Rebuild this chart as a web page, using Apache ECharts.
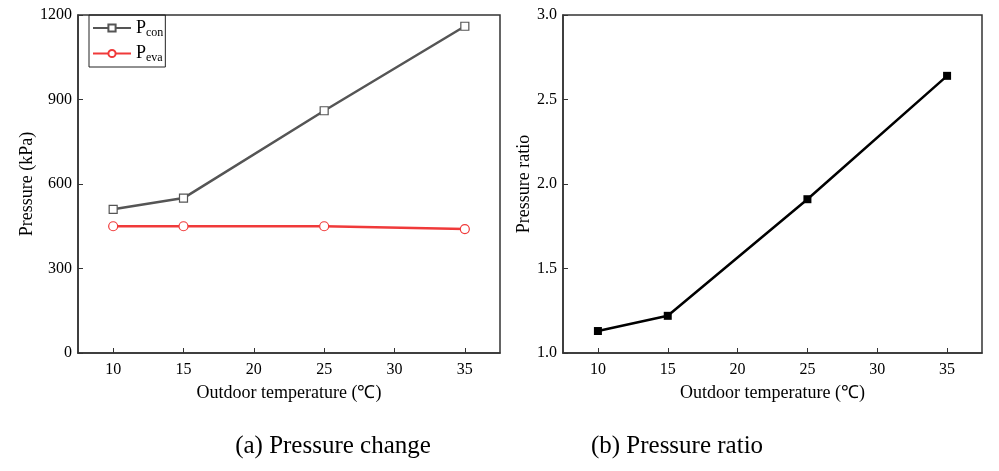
<!DOCTYPE html>
<html><head><meta charset="utf-8">
<script src="https://cdn.jsdelivr.net/npm/echarts@6/dist/echarts.min.js"></script>
<style>html,body{margin:0;padding:0;background:#fff}#c{width:999px;height:471px}</style>
</head><body><div id="c"></div>
<script>
const temps = [10, 15, 25, 35];
const pCon = [510, 550, 860, 1160];
const pEva = [450, 450, 450, 440];
const ratio = [1.13, 1.22, 1.91, 2.64];
const xTicks = [10, 15, 20, 25, 30, 35];
const yTicksLeft = [0, 300, 600, 900, 1200];
const yTicksRight = [1.0, 1.5, 2.0, 2.5, 3.0];

const F = '"Liberation Serif", "Times New Roman", serif';
const AX = '#333';
const chart = echarts.init(document.getElementById('c'));

function xAxis(gi) {
  return {
    gridIndex: gi, type: 'value', min: 7.5, max: 37.5,
    name: 'Outdoor temperature (℃)', nameLocation: 'middle', nameGap: 31,
    nameTextStyle: { fontFamily: F, fontSize: 18, color: '#000' },
    axisLine: { lineStyle: { color: AX, width: 1.5 } },
    axisTick: { inside: true, length: 5, customValues: xTicks, lineStyle: { color: AX } },
    axisLabel: { customValues: xTicks, fontFamily: F, fontSize: 16, color: '#000', margin: 9 },
    splitLine: { show: false }
  };
}
function yAxis(gi, min, max, interval, name, gap, fmt) {
  return {
    gridIndex: gi, type: 'value', min: min, max: max, interval: interval,
    name: name, nameLocation: 'middle', nameGap: gap,
    nameTextStyle: { fontFamily: F, fontSize: 18, color: '#000' },
    axisLine: { show: true, lineStyle: { color: AX, width: 1.5 } },
    axisTick: { show: true, inside: true, length: 5, lineStyle: { color: AX } },
    axisLabel: { fontFamily: F, fontSize: 16, color: '#000', margin: 6, formatter: fmt },
    splitLine: { show: false }
  };
}

const legendRich = {
  p: { fontFamily: F, fontSize: 18, color: '#000' },
  s: { fontFamily: F, fontSize: 12, color: '#000', verticalAlign: 'bottom', padding: [9, 0, 0, 0] }
};

chart.setOption({
  animation: false,
  backgroundColor: '#fff',
  grid: [
    { left: 78, right: 499, top: 15, bottom: 118, show: true, borderColor: AX, borderWidth: 1.5 },
    { left: 563, right: 17, top: 15, bottom: 118, show: true, borderColor: AX, borderWidth: 1.5 }
  ],
  title: [
    { text: '(a) Pressure change', left: 328, top: 429, textAlign: 'center',
      textStyle: { fontFamily: F, fontSize: 25, fontWeight: 'normal', color: '#000' } },
    { text: '(b) Pressure ratio', left: 672, top: 429, textAlign: 'center',
      textStyle: { fontFamily: F, fontSize: 25, fontWeight: 'normal', color: '#000' } }
  ],
  legend: {
    data: ['Pcon', 'Peva'], orient: 'vertical', left: 89, top: 15,
    borderColor: '#222', borderWidth: 1, borderRadius: 0, padding: [4, 2, 3, 3], itemGap: 6,
    itemWidth: 38, itemHeight: 9,
    textStyle: { rich: legendRich },
    formatter: n => '{p|P}{s|' + n.slice(1) + '}'
  },
  xAxis: [xAxis(0), xAxis(1)],
  yAxis: [
    yAxis(0, 0, 1200, 300, 'Pressure (kPa)', 42, v => String(v)),
    yAxis(1, 1.0, 3.0, 0.5, 'Pressure ratio', 27, v => v.toFixed(1))
  ],
  series: [
    { name: 'Pcon', type: 'line', xAxisIndex: 0, yAxisIndex: 0,
      data: temps.map((t, i) => [t, pCon[i]]),
      symbol: 'rect', symbolSize: 8, showAllSymbol: true,
      lineStyle: { color: '#555', width: 2.5 },
      itemStyle: { color: '#fff', borderColor: '#555', borderWidth: 1.2 } },
    { name: 'Peva', type: 'line', xAxisIndex: 0, yAxisIndex: 0,
      data: temps.map((t, i) => [t, pEva[i]]),
      symbol: 'circle', symbolSize: 9,
      lineStyle: { color: '#f03a3a', width: 2.5 },
      itemStyle: { color: '#fff', borderColor: '#f03a3a', borderWidth: 1.2 } },
    { name: 'Ratio', type: 'line', xAxisIndex: 1, yAxisIndex: 1,
      data: temps.map((t, i) => [t, ratio[i]]),
      symbol: 'rect', symbolSize: 8,
      lineStyle: { color: '#000', width: 2.5 },
      itemStyle: { color: '#000' } }
  ]
});
</script></body></html>
